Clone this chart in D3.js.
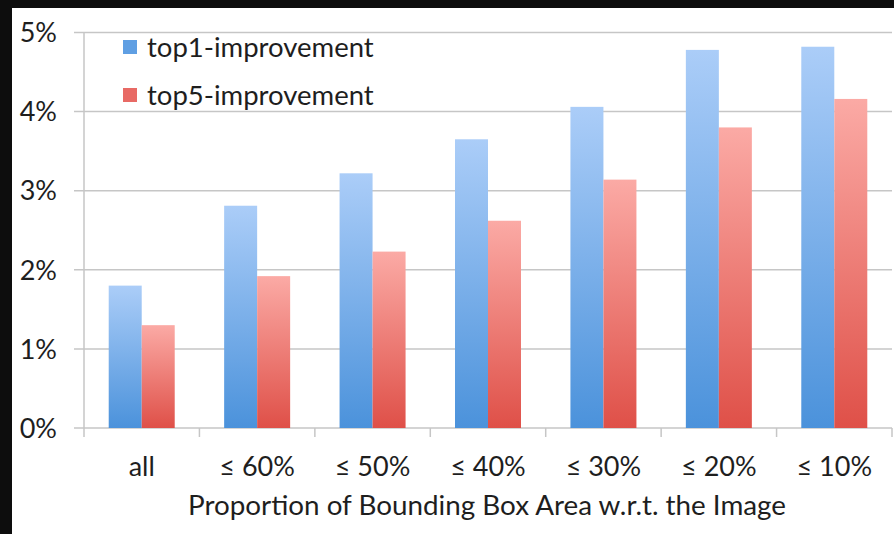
<!DOCTYPE html>
<html>
<head>
<meta charset="utf-8">
<script src="https://cdn.jsdelivr.net/npm/d3@7"></script>
<style>
  html, body { margin: 0; padding: 0; background: #0d0d0d; }
  svg { display: block; }
</style>
</head>
<body>
<svg id="chart" width="894" height="534"></svg>
<script>
// Improvement by bounding-box proportion
const categories = ["all", "≤ 60%", "≤ 50%", "≤ 40%", "≤ 30%", "≤ 20%", "≤ 10%"];
const top1Values = [1.80, 2.81, 3.22, 3.65, 4.06, 4.78, 4.82];
const top5Values = [1.30, 1.92, 2.23, 2.62, 3.14, 3.80, 4.16];
const seriesNames = ["top1-improvement", "top5-improvement"];
const yTicks = [0, 1, 2, 3, 4, 5];
const xTitle = "Proportion of Bounding Box Area w.r.t. the Image";

const W = 894, H = 534;
const svg = d3.select("#chart");
const font = "Lato, 'Open Sans', sans-serif";
const textColor = "#1e1e1e";

// dark frame with white panel
svg.append("rect").attr("width", W).attr("height", H).attr("fill", "#0d0d0d");
svg.append("rect").attr("x", 12).attr("y", 8).attr("width", W - 12).attr("height", H - 8).attr("fill", "#ffffff");

const plot = { left: 84, right: 892, top: 32.5, bottom: 428 };

const x = d3.scaleBand().domain(categories).range([plot.left, plot.right]).paddingInner(0).paddingOuter(0);
const y = d3.scaleLinear().domain([0, 5]).range([plot.bottom, plot.top]);
const groupW = 66;
const xs = d3.scaleBand().domain(seriesNames).range([0, groupW]);

// gradients
const defs = svg.append("defs");
const grads = [
  { id: "gBlue", top: "#abcdf8", bottom: "#4b92db" },
  { id: "gRed", top: "#fbaaa5", bottom: "#df5048" }
];
grads.forEach(g => {
  const lg = defs.append("linearGradient").attr("id", g.id).attr("x1", 0).attr("y1", 0).attr("x2", 0).attr("y2", 1);
  lg.append("stop").attr("offset", "0%").attr("stop-color", g.top);
  lg.append("stop").attr("offset", "100%").attr("stop-color", g.bottom);
});
const fills = ["url(#gBlue)", "url(#gRed)"];
const legendFills = ["#5f9fe3", "#e86a65"];

// horizontal gridlines (with left tick stubs)
svg.append("g")
  .selectAll("line")
  .data(yTicks)
  .join("line")
  .attr("x1", plot.left - 10)
  .attr("x2", plot.right)
  .attr("y1", d => y(d))
  .attr("y2", d => y(d))
  .attr("stroke", "#c6c6c6")
  .attr("stroke-width", 1.5);

// y axis vertical line
svg.append("line")
  .attr("x1", plot.left).attr("x2", plot.left)
  .attr("y1", y(5)).attr("y2", y(0))
  .attr("stroke", "#c6c6c6").attr("stroke-width", 1.5);

// category tick marks
const tickXs = categories.map(c => x(c)).concat([plot.right]);
svg.append("g")
  .selectAll("line")
  .data(tickXs)
  .join("line")
  .attr("x1", d => d).attr("x2", d => d)
  .attr("y1", y(0)).attr("y2", y(0) + 9)
  .attr("stroke", "#c6c6c6").attr("stroke-width", 1.5);

// y tick labels
svg.append("g")
  .selectAll("text")
  .data(yTicks)
  .join("text")
  .attr("x", 57)
  .attr("y", d => y(d))
  .attr("dy", "0.36em")
  .attr("text-anchor", "end")
  .attr("font-family", font)
  .attr("font-size", 27)
  .attr("fill", textColor)
  .text(d => d + "%");

// bars
const series = [top1Values, top5Values];
series.forEach((vals, si) => {
  svg.append("g")
    .selectAll("rect")
    .data(categories.map((c, i) => ({ c, v: vals[i] })))
    .join("rect")
    .attr("x", d => x(d.c) + (x.bandwidth() - groupW) / 2 + xs(seriesNames[si]))
    .attr("width", xs.bandwidth())
    .attr("y", d => y(d.v))
    .attr("height", d => y(0) - y(d.v))
    .attr("fill", fills[si]);
});

// category labels
svg.append("g")
  .selectAll("text")
  .data(categories)
  .join("text")
  .attr("x", d => x(d) + x.bandwidth() / 2)
  .attr("y", 476)
  .attr("text-anchor", "middle")
  .attr("font-family", font)
  .attr("font-size", 27)
  .attr("fill", textColor)
  .text(d => d);

// axis title
svg.append("text")
  .attr("x", (plot.left + plot.right) / 2 - 1)
  .attr("y", 515)
  .attr("text-anchor", "middle")
  .attr("font-family", font)
  .attr("font-size", 27.8)
  .attr("fill", textColor)
  .text(xTitle);

// legend
const legend = svg.append("g");
seriesNames.forEach((name, i) => {
  const base = 57 + i * 48;
  legend.append("rect")
    .attr("x", 123).attr("y", base - 17).attr("width", 14).attr("height", 14)
    .attr("fill", legendFills[i]);
  legend.append("text")
    .attr("x", 147).attr("y", base)
    .attr("font-family", font)
    .attr("font-size", 27.5)
    .attr("fill", textColor)
    .text(name);
});
</script>
</body>
</html>
